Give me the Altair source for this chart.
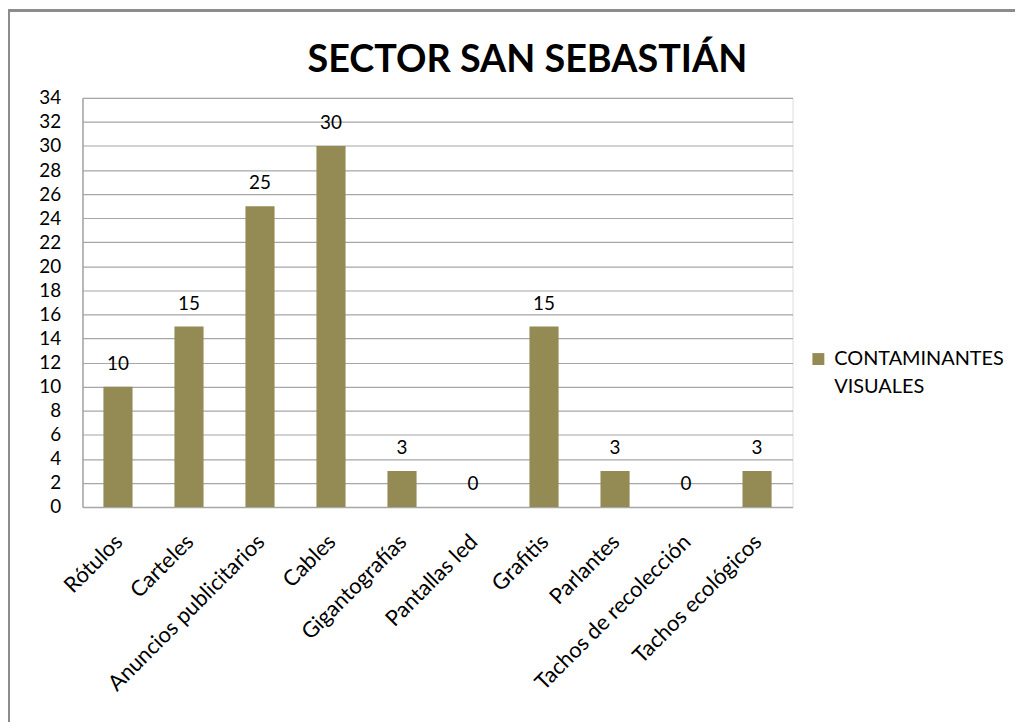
import altair as alt
import pandas as pd

title_text = "SECTOR SAN SEBASTIÁN"
categories = ["Rótulos", "Carteles", "Anuncios publicitarios", "Cables", "Gigantografías",
              "Pantallas led", "Grafitis", "Parlantes", "Tachos de recolección", "Tachos ecológicos"]
values = [10, 15, 25, 30, 3, 0, 15, 3, 0, 3]
series_name = "CONTAMINANTES VISUALES"
y_ticks = list(range(0, 35, 2))

df = pd.DataFrame({"cat": categories, "val": values, "serie": [series_name] * len(categories)})

FONT = "Lato"
BAR = "#948A54"

x_enc = alt.X("cat:N", sort=categories, title=None,
              scale=alt.Scale(paddingInner=0.59, paddingOuter=0.295),
              axis=alt.Axis(labelAngle=-45, labelFont=FONT, labelFontSize=22, labelColor="#000000",
                            domainColor="#A6A6A6", domainWidth=1.5, ticks=False, labelPadding=24,
                            labelOffset=-6, labelLimit=400, labelOverlap=False))
y_enc = alt.Y("val:Q", title=None,
              scale=alt.Scale(domain=[0, 34], nice=False),
              axis=alt.Axis(values=y_ticks, labelFont=FONT, labelFontSize=19, labelColor="#000000",
                            domainColor="#A6A6A6", domainWidth=1.5, ticks=False, labelPadding=22,
                            labelOverlap=False, labelFlush=False,
                            gridColor="#A6A6A6", gridWidth=1.2))

bars = alt.Chart(df).mark_bar(color=BAR).encode(
    x=x_enc, y=y_enc,
    color=alt.Color("serie:N", scale=alt.Scale(range=[BAR]),
                    legend=alt.Legend(title=None, orient="none", legendX=731, legendY=253,
                                      symbolType="square", symbolSize=144, symbolStrokeWidth=0,
                                      labelFont=FONT, labelFontSize=20, labelColor="#000000",
                                      labelExpr="split(datum.label, ' ')", labelLimit=400,
                                      labelOffset=6)),
)

labels = alt.Chart(df).mark_text(font=FONT, fontSize=19, color="#000000", baseline="alphabetic", dy=-17).encode(
    x=x_enc, y=y_enc, text="val:Q"
)

title_df = pd.DataFrame({"t": [title_text]})
title = alt.Chart(title_df).mark_text(font=FONT, fontSize=38, fontWeight="bold", color="#000000",
                                      baseline="alphabetic", align="center").encode(
    x=alt.value(448), y=alt.value(-26), text="t:N"
)

border = alt.Chart(df).mark_rect(filled=False, stroke="#8C8C8C", strokeWidth=2).encode(
    x=alt.value(-74), x2=alt.value(1200), y=alt.value(-88), y2=alt.value(900)
)

chart = alt.layer(border, bars, labels, title).properties(
    width=715, height=412,
    autosize=alt.AutoSizeParams(type="none"),
    padding={"left": 75, "top": 88, "right": 224, "bottom": 214},
).configure_view(stroke=None).configure(style={"guide-label": {"lineHeight": 28}})

chart.save("out.html", embed_options={"renderer": "svg", "actions": False})
